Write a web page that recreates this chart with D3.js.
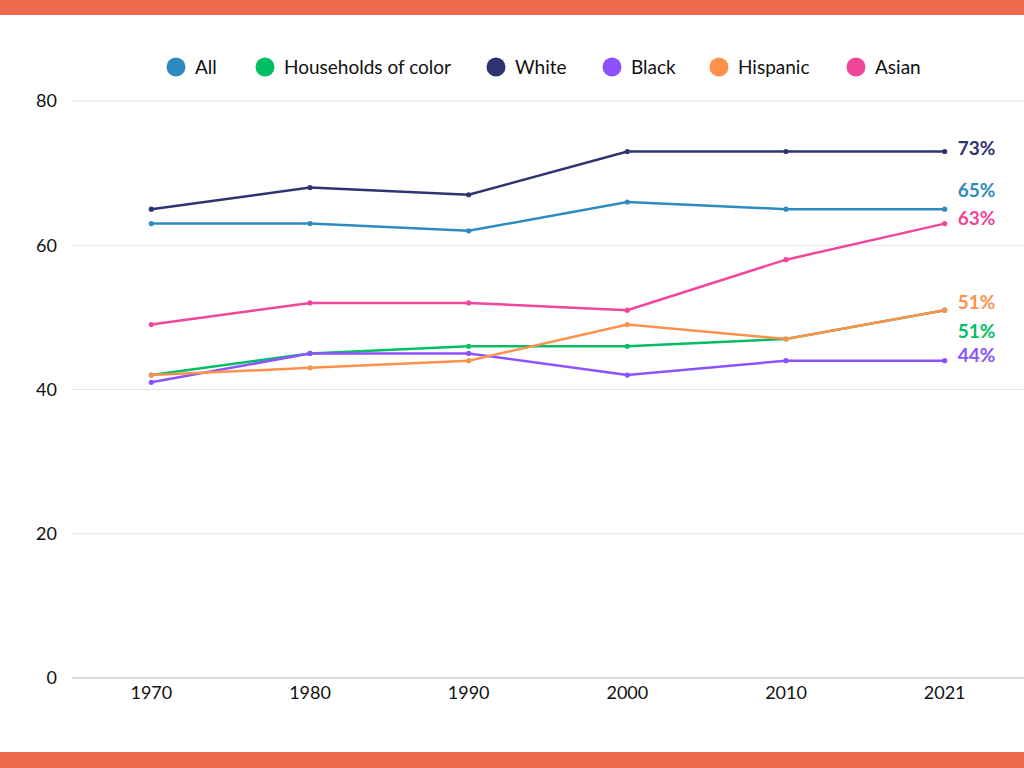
<!DOCTYPE html>
<html>
<head>
<meta charset="utf-8">
<script src="https://cdn.jsdelivr.net/npm/d3@7"></script>
<style>
  body { margin: 0; background: #fff; }
  svg { display: block; font-family: "Lato", "Open Sans", sans-serif; }
</style>
</head>
<body>
<div id="chart"></div>
<script>
// Data
var years = ["1970", "1980", "1990", "2000", "2010", "2021"];
var seriesNames = ["All", "Households of color", "White", "Black", "Hispanic", "Asian"];
var allValues = [63, 63, 62, 66, 65, 65];
var colorValues = [42, 45, 46, 46, 47, 51];
var whiteValues = [65, 68, 67, 73, 73, 73];
var blackValues = [41, 45, 45, 42, 44, 44];
var hispanicValues = [42, 43, 44, 49, 47, 51];
var asianValues = [49, 52, 52, 51, 58, 63];
var yTicks = [0, 20, 40, 60, 80];

var seriesColors = ["#2e8bc0", "#00bf63", "#2f3470", "#8c52ff", "#ff914d", "#f0479b"];
// vertical nudge of the end labels so they don't collide
var labelShift = [-19, 21, -3, -5, -8, -5];

var series = seriesNames.map(function(name, i) {
  return {
    name: name,
    values: [allValues, colorValues, whiteValues, blackValues, hispanicValues, asianValues][i],
    color: seriesColors[i],
    shift: labelShift[i]
  };
});

var svgWidth = 1024;
var svgHeight = 768;

var svg = d3.select("#chart")
            .append("svg")
            .attr("width", svgWidth)
            .attr("height", svgHeight);

// top and bottom orange bands
svg.append("rect").attr("x", 0).attr("y", 0).attr("width", svgWidth).attr("height", 15).attr("fill", "#ee6c4d");
svg.append("rect").attr("x", 0).attr("y", 752).attr("width", svgWidth).attr("height", 16).attr("fill", "#ee6c4d");

var xScale = d3.scaleBand()
               .domain(years)
               .range([72, 1024]);

var yScale = d3.scaleLinear()
               .domain([0, 80])
               .range([678, 101]);

var xPos = function(yr) { return xScale(yr) + xScale.bandwidth() / 2; };

// gridlines
svg.append("g")
   .selectAll("line")
   .data(yTicks)
   .enter()
   .append("line")
   .attr("x1", 72)
   .attr("x2", 1024)
   .attr("y1", d => yScale(d))
   .attr("y2", d => yScale(d))
   .attr("stroke", d => d === 0 ? "#b4b4b4" : "#e4e4e4")
   .attr("stroke-width", 1);

// y axis labels
var leftAxis = d3.axisLeft(yScale).tickValues(yTicks).tickSize(0).tickPadding(0);
var yAxisG = svg.append("g")
   .attr("transform", "translate(57,0)")
   .call(leftAxis);
yAxisG.select(".domain").remove();
yAxisG.selectAll("text")
      .attr("font-family", "Lato, sans-serif")
      .attr("font-size", 18)
      .attr("fill", "#111");

// x axis labels
var bottomAxis = d3.axisBottom(xScale).tickSize(0).tickPadding(0);
var xAxisG = svg.append("g")
   .attr("transform", "translate(0,686)")
   .call(bottomAxis);
xAxisG.select(".domain").remove();
xAxisG.selectAll("text")
      .attr("font-family", "Lato, sans-serif")
      .attr("font-size", 18)
      .attr("fill", "#111");

// lines
var line = d3.line()
             .x((d, i) => xPos(years[i]))
             .y(d => yScale(d));

var seriesG = svg.selectAll(".series")
                 .data(series)
                 .enter()
                 .append("g")
                 .attr("class", "series");

seriesG.append("path")
       .attr("d", d => line(d.values))
       .attr("fill", "none")
       .attr("stroke", d => d.color)
       .attr("stroke-width", 2.5);

seriesG.selectAll("circle")
       .data(d => d.values.map(v => ({ v: v, color: d.color })))
       .enter()
       .append("circle")
       .attr("cx", (d, i) => xPos(years[i]))
       .attr("cy", d => yScale(d.v))
       .attr("r", 2.6)
       .attr("fill", d => d.color);

// end labels
var lastYear = years[years.length - 1];
svg.selectAll(".endLabel")
   .data(series)
   .enter()
   .append("text")
   .attr("class", "endLabel")
   .attr("x", xPos(lastYear) + 13)
   .attr("y", d => yScale(d.values[d.values.length - 1]) + d.shift)
   .attr("dy", "0.35em")
   .attr("font-size", 19)
   .attr("font-weight", "bold")
   .attr("fill", d => d.color)
   .text(d => d.values[d.values.length - 1] + "%");

// legend
var legendX = [176, 265, 496, 612, 719, 856];
var legend = svg.selectAll(".legend")
                .data(series)
                .enter()
                .append("g")
                .attr("class", "legend")
                .attr("transform", (d, i) => `translate(${legendX[i]}, 67)`);

legend.append("circle")
      .attr("r", 9.5)
      .attr("fill", d => d.color);

legend.append("text")
      .attr("x", 19)
      .attr("dy", "0.35em")
      .attr("font-size", 19)
      .attr("fill", "#111")
      .text(d => d.name);
</script>
</body>
</html>
